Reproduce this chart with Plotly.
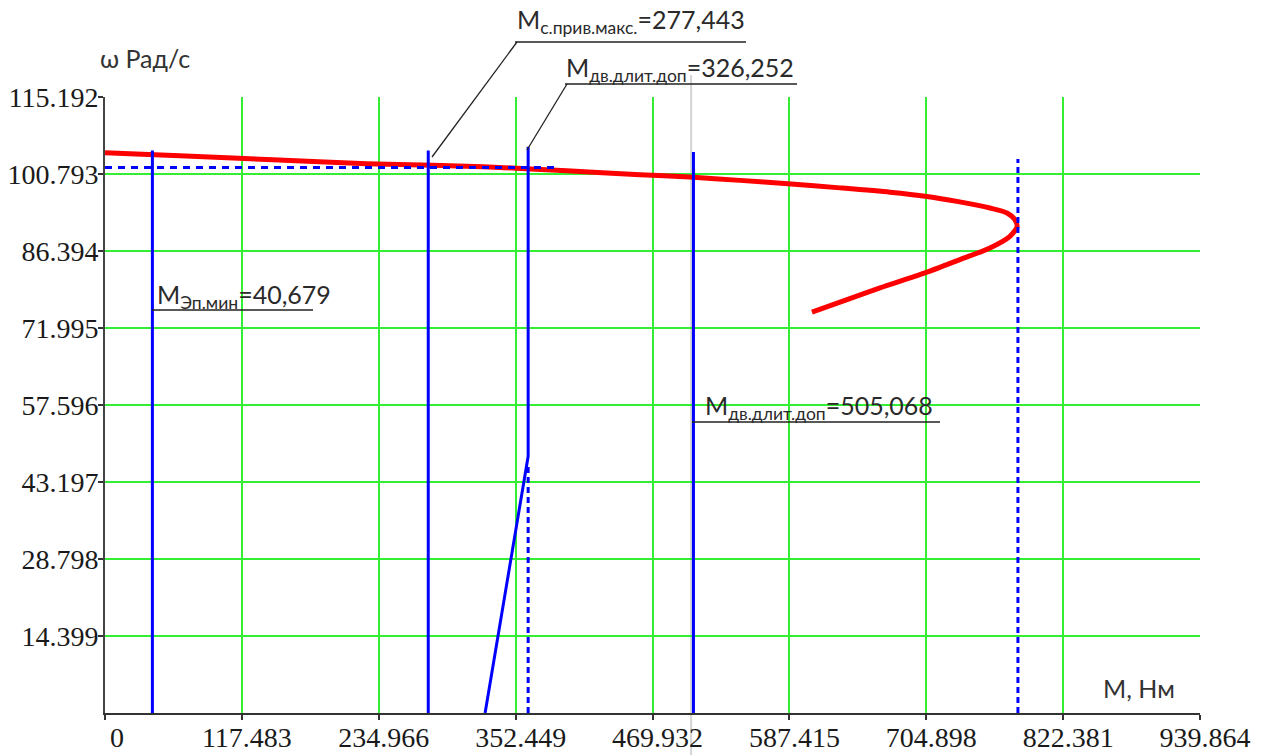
import plotly.graph_objects as go

# ---------------- data ----------------
x_ticks = [0, 117.483, 234.966, 352.449, 469.932, 587.415, 704.898, 822.381, 939.864]
x_tick_text = ["\u20070", "117.483", "234.966", "352.449", "469.932", "587.415", "704.898", "822.381", "939.864"]
y_ticks = [14.399, 28.798, 43.197, 57.596, 71.995, 86.394, 100.793, 115.192]
y_tick_text = ["14.399", "28.798", "43.197", "57.596", "71.995", "86.394", "100.793", "115.192"]

# motor mechanical characteristic (red)
red_M = [0, 64.2, 144.1, 224.8, 281.4, 324.3, 396.4, 459.1, 501.9, 545.0, 586.2, 630.8, 673.8, 705.5,
         731.3, 759.6, 774.2, 781.0, 782.8, 776.7, 759.6, 733.8, 703.8, 665.2, 636.9, 606.8]
red_w = [104.77, 104.2, 103.46, 102.7, 102.44, 102.16, 101.41, 100.66, 100.23, 99.6, 98.95, 98.2, 97.4, 96.6,
         95.68, 94.44, 93.51, 92.26, 90.89, 89.14, 86.97, 84.79, 82.30, 79.50, 77.32, 74.95]

# vertical torque lines (blue, solid)
M_el_min = 40.679
M_priv_max = 277.443
M_dl_dop_1 = 326.252
M_dl_dop_2 = 505.068
M_break = 363.2
w_break = 48.0
top_el_min = 105.2
top_priv_max = 105.2
top_break = 105.9
top_dl_dop_2 = 104.9

# dotted lines (blue)
M_crit = 783.6
top_crit = 103.6
top_break_dot = 46.0
w_dot = 102.0
M_dot_end = 390.0

X_MAX = 939.864
Y_MAX = 115.192

fig = go.Figure()

fig.add_trace(go.Scatter(x=red_M, y=red_w, mode="lines",
                         line=dict(color="#ff0000", width=5, shape="spline", smoothing=0.7),
                         hoverinfo="skip"))

# solid blue verticals
bx = [M_el_min, M_el_min, None, M_priv_max, M_priv_max, None, M_dl_dop_2, M_dl_dop_2]
by = [0, top_el_min, None, 0, top_priv_max, None, 0, top_dl_dop_2]
fig.add_trace(go.Scatter(x=bx, y=by, mode="lines", line=dict(color="#0000ff", width=3), hoverinfo="skip"))

# slanted + vertical blue
fig.add_trace(go.Scatter(x=[M_dl_dop_1, M_break, M_break], y=[0, w_break, top_break], mode="lines",
                         line=dict(color="#0000ff", width=3), hoverinfo="skip"))

# dotted verticals
fig.add_trace(go.Scatter(x=[M_break, M_break, None, M_crit, M_crit], y=[0, top_break_dot, None, 0, top_crit],
                         mode="lines", line=dict(color="#0000ff", width=3, dash="6px,4px"), hoverinfo="skip"))
# dotted horizontal
fig.add_trace(go.Scatter(x=[0, M_dot_end], y=[w_dot, w_dot], mode="lines",
                         line=dict(color="#0000ff", width=3, dash="7px,6px"), hoverinfo="skip"))

# ---------------- layout helpers ----------------
L, R, T, B = 105, 70, 97, 42
W, H = 1270, 755
PW, PH = W - L - R, H - T - B


def px(x):
    return (x - L) / PW


def py(y):
    return (H - B - y) / PH


FONT = "Lato, Noto Sans, sans-serif"
ann_font = dict(family=FONT, size=25, color="#2a2a2a")
annotations = [
    dict(text="M<sub>с.прив.макс.</sub>=277,443", x=px(515), y=py(21), font=ann_font),
    dict(text="M<sub>дв.длит.доп</sub>=326,252", x=px(564), y=py(69), font=ann_font),
    dict(text="M<sub>Эп.мин</sub>=40,679", x=px(155), y=py(296), font=ann_font),
    dict(text="M<sub>дв.длит.доп</sub>=505,068", x=px(703), y=py(407), font=ann_font),
    dict(text="ω Рад/с", x=px(98), y=py(58), font=dict(family=FONT, size=25, color="#333333")),
    dict(text="M, Нм", x=px(1101), y=py(688), font=dict(family=FONT, size=25, color="#333333")),
]
for a in annotations:
    a.update(xref="paper", yref="paper", xanchor="left", yanchor="middle", showarrow=False)

line_style = dict(color="#222222", width=1.3)
shapes = [
    # gray cursor line
    dict(type="line", xref="x", yref="paper", x0=M_dl_dop_2 - 2, x1=M_dl_dop_2 - 2, y0=py(755), y1=py(75),
         line=dict(color="#d4d4d4", width=2), layer="below"),
    # underline + leader 1
    dict(type="line", xref="paper", yref="paper", x0=px(515), x1=px(746), y0=py(42), y1=py(42), line=line_style),
    dict(type="line", xref="paper", yref="paper", x0=px(517), x1=px(432), y0=py(42), y1=py(157), line=line_style),
    # underline + leader 2
    dict(type="line", xref="paper", yref="paper", x0=px(565), x1=px(797), y0=py(84), y1=py(84), line=line_style),
    dict(type="line", xref="paper", yref="paper", x0=px(567), x1=px(527), y0=py(84), y1=py(150), line=line_style),
    # underline 3
    dict(type="line", xref="paper", yref="paper", x0=px(152), x1=px(313), y0=py(310), y1=py(310), line=line_style),
    # underline 4
    dict(type="line", xref="paper", yref="paper", x0=px(692), x1=px(940), y0=py(422), y1=py(422), line=line_style),
]

tick_font = dict(family="Liberation Serif, Times New Roman, serif", size=28, color="#1a1a1a")

fig.update_layout(
    width=W, height=H,
    margin=dict(l=L, r=R, t=T, b=B, autoexpand=False),
    plot_bgcolor="white", paper_bgcolor="white",
    showlegend=False,
    annotations=annotations,
    shapes=shapes,
    xaxis=dict(range=[0, X_MAX], tickmode="array", tickvals=x_ticks, ticktext=x_tick_text,
               showgrid=True, gridcolor="#33ee33", gridwidth=2, zeroline=False, automargin=False,
               showline=True, linecolor="#333333", linewidth=2,
               ticks="outside", ticklen=5, tickwidth=2, tickcolor="#333333",
               tickfont=tick_font, ticklabelstandoff=-7, ticklabelshift=5),
    yaxis=dict(range=[0, Y_MAX], tickmode="array", tickvals=y_ticks, ticktext=y_tick_text,
               showgrid=True, gridcolor="#33ee33", gridwidth=2, zeroline=False, automargin=False,
               showline=True, linecolor="#444444", linewidth=2,
               ticks="outside", ticklen=5, tickwidth=2, tickcolor="#333333",
               tickfont=tick_font, ticklabelstandoff=-6),
)

fig.write_html("out.html")
